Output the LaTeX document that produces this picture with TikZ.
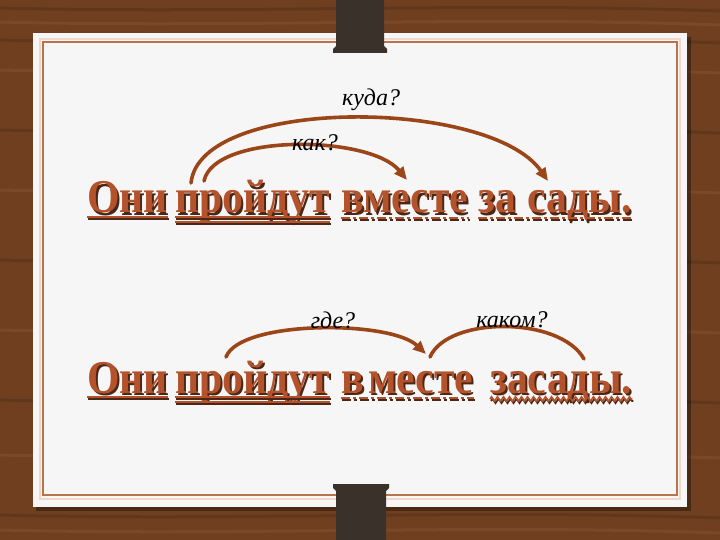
\documentclass[tikz,border=0pt]{standalone}
\usepackage{graphicx}
\usepackage{fontspec}
\setmainfont{Liberation Serif}
\usetikzlibrary{arrows.meta,decorations.pathmorphing}
\definecolor{woodc}{HTML}{6F3F20}
\definecolor{wooddark}{HTML}{55301A}
\definecolor{woodlight}{HTML}{8A5430}
\definecolor{cardc}{HTML}{F6F6F6}
\definecolor{frameline}{HTML}{B8744C}
\definecolor{peach}{HTML}{F3D6C4}
\definecolor{clipc}{HTML}{3A312B}
\definecolor{wordc}{HTML}{B4532B}
\definecolor{wordsh}{HTML}{4A2716}
\definecolor{arcc}{HTML}{9A4619}
\newcommand\sqz[1]{\scalebox{0.89}[1]{#1}}
\newcommand\shw[1]{\makebox[0pt][l]{\hspace{2pt}\raisebox{-2pt}{\textcolor{wordsh}{\sqz{#1}}}}\textcolor{wordc}{\sqz{#1}}}
\tikzset{
  wordtxt/.style={anchor=base west, inner sep=0pt, font=\bfseries\fontsize{47}{50}\selectfont},
  qlabel/.style={inner sep=0pt, font=\itshape\fontsize{24}{26}\selectfont, text=black},
  arcline/.style={draw=arcc, line width=3.6pt, line cap=round},
  arctip/.style={arcline, -{Triangle[length=13pt,width=11pt]}},
  ulsolid/.style={draw=wordc, line width=2.6pt},
  ulshadow/.style={draw=wordsh, line width=2.6pt},
  uldashdot/.style={draw=wordc, line width=2.6pt, dash pattern=on 9pt off 3pt on 3pt off 3pt},
  uldashdotsh/.style={draw=wordsh, line width=2.6pt, dash pattern=on 9pt off 3pt on 3pt off 3pt},
  ulwave/.style={draw=wordc, line width=1.6pt, decorate, decoration={zigzag, segment length=6pt, amplitude=2.2pt}},
  ulwavesh/.style={draw=wordsh, line width=1.6pt, decorate, decoration={zigzag, segment length=6pt, amplitude=2.2pt}},
}
\begin{document}
\begin{tikzpicture}[x=1pt,y=-1pt]
\useasboundingbox (0,0) rectangle (720,540);
% wood background
\fill[woodc] (0,0) rectangle (720,540);
\foreach \yy/\cc in {8/wooddark,22/woodlight,40/wooddark,70/woodlight,130/wooddark,190/woodlight,260/wooddark,330/woodlight,400/wooddark,455/woodlight,515/wooddark,530/woodlight}{
  \draw[\cc, line width=3pt, opacity=0.5] (0,\yy) .. controls (240,\yy+6) and (480,\yy-6) .. (720,\yy+3);
}
% card
\fill[black, opacity=0.35] (36,37) rectangle (691,511);
\fill[cardc] (33,33) rectangle (687,507);
\draw[peach, line width=1.2pt] (40,39) rectangle (680,499);
\draw[frameline, line width=1.6pt] (43,42) rectangle (677,495);
% clips
\fill[clipc] (336,0) -- (336,46) -- (333,49) -- (333,53) -- (387,53) -- (387,49) -- (384,46) -- (384,0) -- cycle;
\fill[clipc] (336,540) -- (336,491) -- (333,488) -- (333,484) -- (389,484) -- (389,488) -- (386,491) -- (386,540) -- cycle;

% ---------- sentence 1 ----------
\node[wordtxt] (a1) at (87,213) {\shw{Они}};
\node[wordtxt] (a2) at (175,213) {\shw{пройдут}};
\node[wordtxt] (a3) at (341,213) {\shw{вместе}};
\node[wordtxt] (a4) at (478,213) {\shw{за}};
\node[wordtxt] (a5) at (527,213) {\shw{сады.}};
% underlines 1
\draw[ulshadow] ([xshift=1pt,yshift=-6pt]a1.base west) -- ([xshift=1pt,yshift=-6pt]a1.base east);
\draw[ulsolid] ([yshift=-4pt]a1.base west) -- ([yshift=-4pt]a1.base east);
\draw[ulshadow] ([xshift=1pt,yshift=-6pt]a2.base west) -- ([xshift=1pt,yshift=-6pt]a2.base east);
\draw[ulsolid] ([yshift=-4pt]a2.base west) -- ([yshift=-4pt]a2.base east);
\draw[ulshadow] ([xshift=1pt,yshift=-11pt]a2.base west) -- ([xshift=1pt,yshift=-11pt]a2.base east);
\draw[ulsolid] ([yshift=-9pt]a2.base west) -- ([yshift=-9pt]a2.base east);
\draw[uldashdotsh] ([xshift=1pt,yshift=-7pt]a3.base west) -- ([xshift=1pt,yshift=-7pt]a3.base east);
\draw[uldashdot] ([yshift=-5pt]a3.base west) -- ([yshift=-5pt]a3.base east);
\draw[uldashdotsh] ([xshift=1pt,yshift=-7pt]a4.base west) -- ([xshift=1pt,yshift=-7pt]a5.base east);
\draw[uldashdot] ([yshift=-5pt]a4.base west) -- ([yshift=-5pt]a5.base east);
% arcs 1
\coordinate (k1s) at (191,183);
\coordinate (k1e) at (548,181);
\coordinate (k2s) at (204,181);
\coordinate (k2e) at (407,180);
\draw[arctip] (k1s) .. controls (200,96) and (490,98) .. (k1e);
\draw[arctip] (k2s) .. controls (214,133) and (370,135) .. (k2e);
\node[qlabel] (q1) at (371,100) {куда?};
\node[qlabel] (q2) at (315,143) {как?};

% ---------- sentence 2 ----------
\node[wordtxt] (b1) at (87,393) {\shw{Они}};
\node[wordtxt] (b2) at (175,393) {\shw{пройдут}};
\node[wordtxt] (b3) at (341,393) {\shw{в}};
\node[wordtxt] (b4) at (368,393) {\shw{месте}};
\node[wordtxt] (b5) at (490,393) {\shw{засады.}};
% underlines 2
\draw[ulshadow] ([xshift=1pt,yshift=-6pt]b1.base west) -- ([xshift=1pt,yshift=-6pt]b1.base east);
\draw[ulsolid] ([yshift=-4pt]b1.base west) -- ([yshift=-4pt]b1.base east);
\draw[ulshadow] ([xshift=1pt,yshift=-6pt]b2.base west) -- ([xshift=1pt,yshift=-6pt]b2.base east);
\draw[ulsolid] ([yshift=-4pt]b2.base west) -- ([yshift=-4pt]b2.base east);
\draw[ulshadow] ([xshift=1pt,yshift=-11pt]b2.base west) -- ([xshift=1pt,yshift=-11pt]b2.base east);
\draw[ulsolid] ([yshift=-9pt]b2.base west) -- ([yshift=-9pt]b2.base east);
\draw[uldashdotsh] ([xshift=1pt,yshift=-7pt]b3.base west) -- ([xshift=1pt,yshift=-7pt]b4.base east);
\draw[uldashdot] ([yshift=-5pt]b3.base west) -- ([yshift=-5pt]b4.base east);
\draw[ulwavesh] ([xshift=1pt,yshift=-8pt]b5.base west) -- ([xshift=1pt,yshift=-8pt]b5.base east);
\draw[ulwave] ([yshift=-6pt]b5.base west) -- ([yshift=-6pt]b5.base east);
% arcs 2
\coordinate (g1s) at (226,357);
\coordinate (g1e) at (426,354);
\coordinate (g2s) at (430,357);
\coordinate (g2e) at (584,359);
\draw[arctip] (g1s) .. controls (240,320) and (390,320) .. (g1e);
\draw[arcline] (g2s) .. controls (448,316) and (560,316) .. (g2e);
\node[qlabel] (q3) at (333,320) {где?};
\node[qlabel] (q4) at (512,320) {каком?};
\end{tikzpicture}
\end{document}
